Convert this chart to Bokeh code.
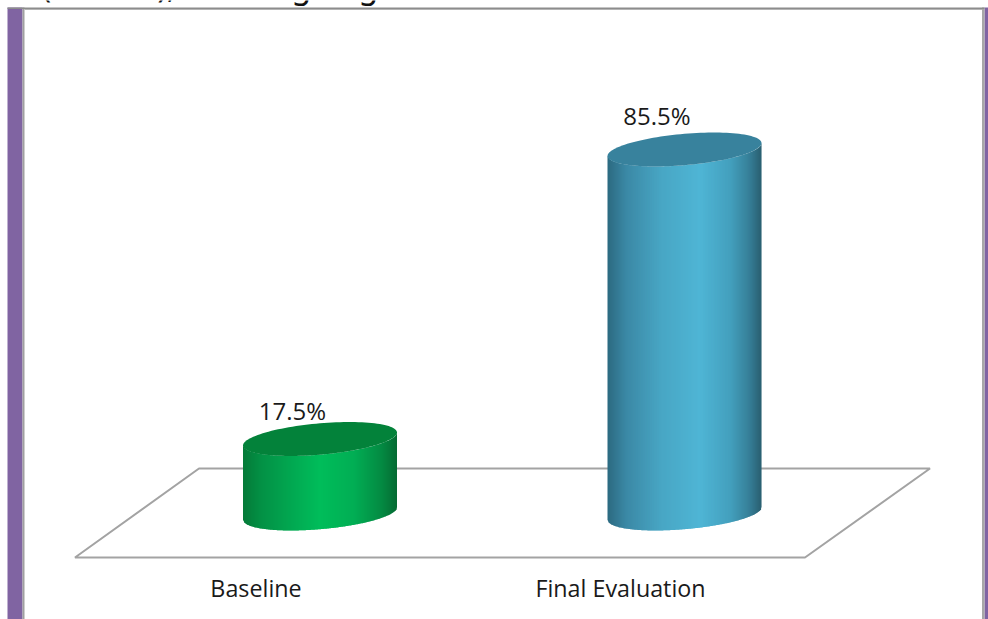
from bokeh.core.properties import value
from bokeh.embed import file_html
from bokeh.models import ColumnDataSource, Range1d
from bokeh.plotting import figure
from bokeh.resources import INLINE
import numpy as np

# Chart data
categories = ["Baseline", "Final Evaluation"]
percentages = [17.5, 85.5]
value_labels = ["17.5%", "85.5%"]
heading_fragments = ["(", "),", "g", "g"]

# Canvas scale: pixel position of each category's cylinder axis and of 0 %
W, H = 988, 619
ZERO_PX = 513.0
PX_PER_PCT = 4.257
FIRST_PX = 319.5
STEP_PX = 364.5

x_range = Range1d(-FIRST_PX / STEP_PX, (W - FIRST_PX) / STEP_PX)
y_range = Range1d((ZERO_PX - H) / PX_PER_PCT, ZERO_PX / PX_PER_PCT)


def dx(px):
    return px / STEP_PX


def xp(px):
    return (px - FIRST_PX) / STEP_PX


def yp(px):
    return (ZERO_PX - px) / PX_PER_PCT


p = figure(width=W, height=H, x_range=x_range, y_range=y_range,
           output_backend="svg", toolbar_location=None, min_border=0,
           x_axis_location=None, y_axis_location=None,
           background_fill_color="white", border_fill_color="white")
p.grid.visible = False
p.outline_line_color = None

# Descenders of the heading line running off the top edge
p.text(x=[xp(v) for v in (41, 157, 291, 358)], y=[yp(-15)] * 4, text=heading_fragments,
       text_font=value("Noto Sans"), text_font_size="32px", text_color="#111111",
       text_baseline="alphabetic", text_align="left")

# Slide frame: purple side bands with a grey inner rule
PURPLE, RULE_DARK, RULE_LIGHT = "#8064a2", "#8c8c8c", "#b4b4b4"
for left, right, top, bottom, colour in [
    (7, 22, 7, H, PURPLE),
    (984, W, 7, H, PURPLE),
    (22, 24, 7, H, "#a0a0a0"),
    (981.5, 984, 7, H, "#a8a8a8"),
    (7, 984, 7, 8.5, RULE_DARK),
    (24, 981.5, 8.5, 9.5, RULE_LIGHT),
]:
    p.quad(left=[xp(left)], right=[xp(right)], top=[yp(top)], bottom=[yp(bottom)],
           fill_color=colour, line_color=None)

# Floor plate
p.patch(x=[xp(v) for v in (74.5, 198.5, 929.5, 804.5, 74.5)],
        y=[yp(v) for v in (557, 468, 468, 557, 557)],
        fill_color=None, line_color="#a3a3a3", line_width=2)

# Cylinder geometry (pixels)
RADIUS_X, RADIUS_Y, TILT = 77.0, 15.7, 0.084


def lower_edge(offset):
    """Front rim of the tilted ellipse, as a pixel offset below its centre."""
    ratio = np.clip(offset / RADIUS_X, -1, 1)
    return RADIUS_Y * np.sqrt(1 - ratio ** 2) - TILT * offset


def shade(stops, t):
    pos = [s[0] for s in stops]
    chans = [np.interp(t, pos, [int(s[1][i:i + 2], 16) for s in stops]) for i in (1, 3, 5)]
    return "#%02x%02x%02x" % tuple(int(round(c)) for c in chans)


bodies = [
    ([(0, "#047a38"), (0.12, "#039145"), (0.35, "#01ac53"), (0.5, "#00bd5a"),
      (0.72, "#01ae54"), (0.9, "#038a42"), (1, "#056a33")], "#03823a"),
    ([(0, "#2c6a80"), (0.12, "#3b88a5"), (0.35, "#48a6c4"), (0.6, "#4fb5d5"),
      (0.8, "#439fbd"), (0.92, "#367f98"), (1, "#2a5f70")], "#38829d"),
]

for i, (val, (stops, cap)) in enumerate(zip(percentages, bodies)):
    # Side wall: narrow vertical strips following the front rim at both ends
    xs, ys, colours = [], [], []
    edges = np.arange(-RADIUS_X, RADIUS_X, 1.0)
    for e in edges:
        e2 = min(e + 1.0, RADIUS_X)
        lo1, lo2 = lower_edge(e), lower_edge(e2)
        paint_to = min(e + 1.6, RADIUS_X)
        xs.append([i + dx(e), i + dx(paint_to), i + dx(paint_to), i + dx(e)])
        ys.append([val - lo1 / PX_PER_PCT, val - lo2 / PX_PER_PCT,
                   -lo2 / PX_PER_PCT, -lo1 / PX_PER_PCT])
        colours.append(shade(stops, (e + RADIUS_X + 0.5) / (2 * RADIUS_X)))
    p.patches(xs=xs, ys=ys, fill_color=colours, line_color=None)

    # Top cap
    theta = np.linspace(0, 2 * np.pi, 121)
    off = RADIUS_X * np.cos(theta)
    rise = RADIUS_Y * np.sin(theta) + TILT * off
    p.patch(x=i + off / STEP_PX, y=val + rise / PX_PER_PCT, fill_color=cap, line_color=None)

# Value labels above the caps and category names under the plate
labels = ColumnDataSource(dict(x=list(range(len(categories))), y=percentages, text=value_labels,
                               off=[-29, -34]))
p.text(x="x", y="y", text="text", y_offset="off", x_offset=-27.5, source=labels,
       text_font=value("Open Sans"), text_font_size="24px", text_color="#1a1a1a",
       text_align="center", text_baseline="middle")

names = ColumnDataSource(dict(x=list(range(len(categories))), text=categories))
p.text(x="x", y=yp(587.5), text="text", x_offset=-64, source=names,
       text_font=value("Open Sans"), text_font_size="23.3px", text_color="#1a1a1a",
       text_align="center", text_baseline="middle")

open("out.html", "w").write(file_html(p, INLINE))
